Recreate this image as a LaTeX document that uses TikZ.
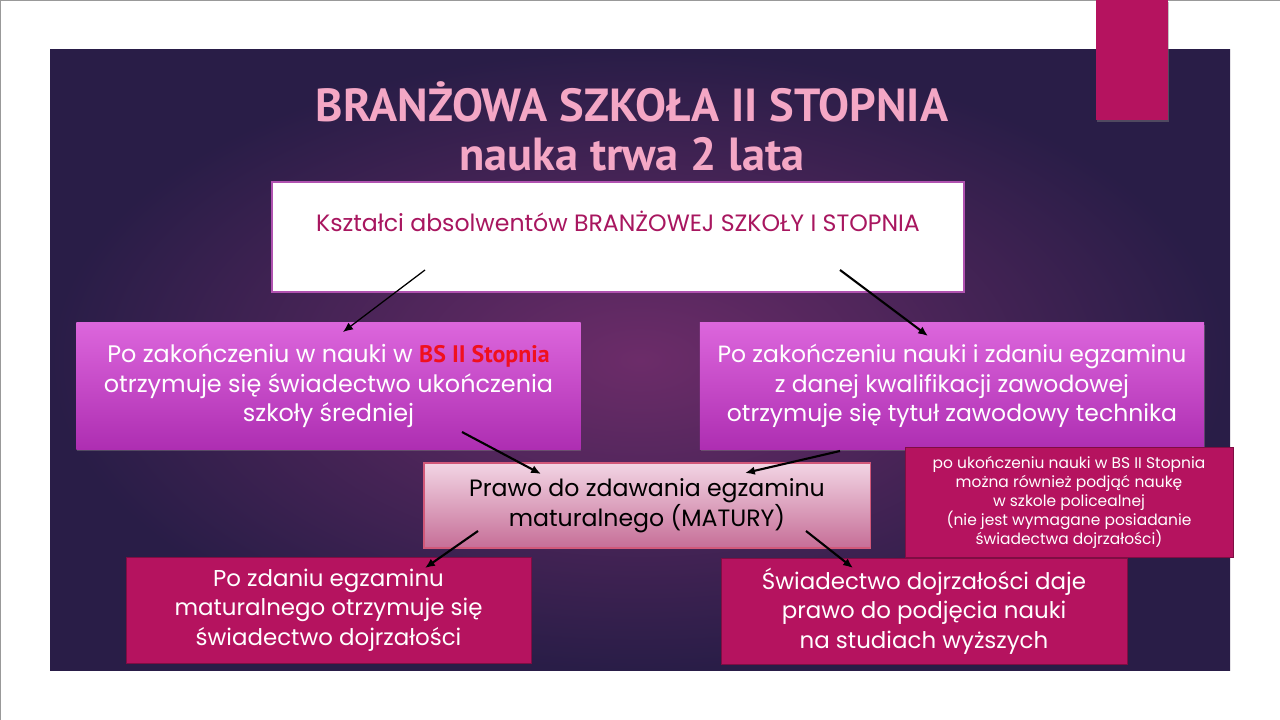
\documentclass[tikz,border=0pt]{standalone}
\usepackage{fontspec}
\setmainfont{Poppins}
\newfontfamily\titlefont{PT Sans}
\usetikzlibrary{shadows}
\usetikzlibrary{arrows.meta}
\definecolor{slidedark}{HTML}{291D47}
\definecolor{slidemid}{HTML}{6C2C69}
\definecolor{tabpink}{HTML}{B5135F}
\definecolor{titlepink}{HTML}{F4A7C5}
\definecolor{violettop}{HTML}{DC66DC}
\definecolor{violetbot}{HTML}{AE2EB2}
\definecolor{rosetop}{HTML}{F2D5E4}
\definecolor{rosebot}{HTML}{C66E97}
\definecolor{boxtext}{HTML}{A8165F}
\definecolor{bsred}{HTML}{F0101E}

\begin{document}
\begin{tikzpicture}[x=0.025cm,y=-0.025cm,
    bodyfont/.style={font=\fontsize{16.3pt}{21pt}\selectfont},
    shadowed/.style={drop shadow={shadow xshift=0.6pt,shadow yshift=-1.6pt,opacity=0.45}},
    violetbox/.style={shadowed,top color=violettop,bottom color=violetbot,
        text=white,align=center,minimum width=12.6cm,minimum height=3.15cm,inner sep=0pt},
    pinkbox/.style={bodyfont,fill=tabpink,draw=tabpink!70!black,line width=0.6pt,
        text=white,align=center,inner sep=0pt},
    arrow/.style={-{Latex[length=7pt,width=6pt]},line width=1.5pt,black}
]
    \useasboundingbox (0,0) rectangle (1280,720);
    \fill[white] (0,0) rectangle (1280,720);
    \draw[gray!80,line width=1pt] (0,720) -- (0,0) -- (1280,0);

    % background of the slide
    \shade[inner color=slidemid,outer color=slidedark] (50,50) rectangle (1230,670);
    \fill[tabpink,shadowed] (1096,0) rectangle (1168,120);

    % title
    \node (title) at (632,126) [align=center,text=titlepink,
        font=\titlefont\bfseries\fontsize{33pt}{35pt}\selectfont] {BRANŻOWA SZKOŁA II STOPNIA\\nauka trwa 2 lata};

    \node (top) at (618,237) [draw=violettop!80!black,line width=1.2pt,fill=white,
        minimum width=17.3cm,minimum height=2.75cm,text depth=22pt,text=boxtext,
        font=\fontsize{16.8pt}{20pt}\selectfont] {Kształci absolwentów BRANŻOWEJ SZKOŁY I STOPNIA};

    \node (left) at (328.5,386) [violetbox,font=\fontsize{17pt}{21pt}\selectfont] {Po zakończeniu w nauki w {\titlefont\bfseries\color{bsred}BS II Stopnia}\\otrzymuje się świadectwo ukończenia\\szkoły średniej};
    \node (right) at (952,386) [violetbox,font=\fontsize{16.7pt}{21pt}\selectfont] {Po zakończeniu nauki i zdaniu egzaminu\\z danej kwalifikacji zawodowej\\otrzymuje się tytuł zawodowy technika};

    \node (matura) at (647,505.5) [top color=rosetop,bottom color=rosebot,
        draw=rosebot!80!red,line width=0.8pt,align=center,inner sep=0pt,
        minimum width=11.15cm,minimum height=2.125cm,font=\fontsize{16.8pt}{21pt}\selectfont] {Prawo do zdawania egzaminu\\maturalnego (MATURY)};

    \node (police) at (1069,502) [pinkbox,minimum width=8.2cm,minimum height=2.75cm,
        font=\fontsize{11pt}{13.5pt}\selectfont] {po ukończeniu nauki w BS II Stopnia\\można również podjąć naukę\\w szkole policealnej\\(nie jest wymagane posiadanie\\świadectwa dojrzałości)};

    \node (cert) at (328.5,610) [pinkbox,minimum width=10.125cm,minimum height=2.65cm] {Po zdaniu egzaminu\\maturalnego otrzymuje się\\świadectwo dojrzałości};
    \node (study) at (924,611) [pinkbox,minimum width=10.15cm,minimum height=2.65cm] {Świadectwo dojrzałości daje\\prawo do podjęcia nauki\\na studiach wyższych};

    % arrow ends
    \coordinate (topL) at (425,270);
    \coordinate (topR) at (840,270);
    \coordinate (leftIn) at (343,332);
    \coordinate (rightIn) at (928,336);
    \coordinate (leftOut) at (462,432);
    \coordinate (rightOut) at (840,451);
    \coordinate (maturaL) at (541,474);
    \coordinate (maturaR) at (745,473);
    \coordinate (maturaBL) at (478,531);
    \coordinate (maturaBR) at (806,531);
    \coordinate (certIn) at (425,568);
    \coordinate (studyIn) at (853,568);

    \draw[arrow,line width=0.9pt] (topL) -- (leftIn);
    \draw[arrow] (topR) -- (rightIn);
    \draw[arrow] (leftOut) -- (maturaL);
    \draw[arrow] (rightOut) -- (maturaR);
    \draw[arrow] (maturaBL) -- (certIn);
    \draw[arrow] (maturaBR) -- (studyIn);
\end{tikzpicture}
\end{document}
